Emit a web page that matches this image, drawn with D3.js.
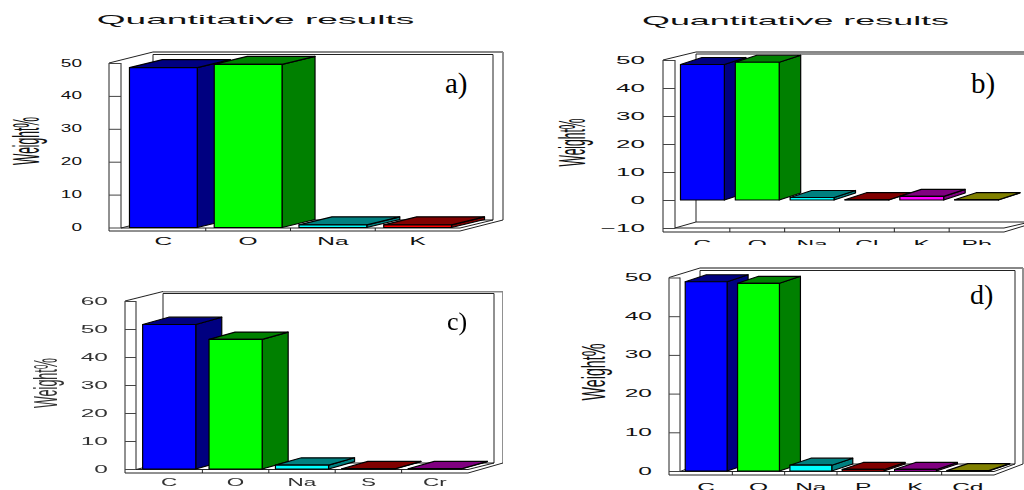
<!DOCTYPE html>
<html>
<head>
<meta charset="utf-8">
<script src="https://cdn.jsdelivr.net/npm/d3@7"></script>
<style>
  html, body { margin: 0; padding: 0; background: #fff; overflow: hidden; }
  svg { display: block; }
  text { font-family: "Liberation Sans", Arial, sans-serif; fill: #111; }
</style>
</head>
<body>
<svg id="chart" width="1024" height="490"></svg>
<script>
// values
const catsA = ["C", "O", "Na", "K"];
const valsA = [48.6, 49.6, 0.8, 0.8];
const ticksA = [0, 10, 20, 30, 40, 50];

const catsB = ["C", "O", "Na", "Cl", "K", "Pb"];
const valsB = [48.4, 49.2, 0.9, 0.1, 1.3, 0.1];
const ticksB = [-10, 0, 10, 20, 30, 40, 50];

const catsC = ["C", "O", "Na", "S", "Cr"];
const valsC = [51.6, 46.3, 1.4, 0.1, 0.1];
const ticksC = [0, 10, 20, 30, 40, 50, 60];

const catsD = ["C", "O", "Na", "P", "K", "Cd"];
const valsD = [48.9, 48.5, 1.5, 0.4, 0.4, 0.1];
const ticksD = [0, 10, 20, 30, 40, 50];

const frontColors = ["#0000ff", "#00ff00", "#00ffff", "#ff0000", "#ff00ff", "#ffff00"];
const backColors = ["#000080", "#008000", "#008080", "#800000", "#800080", "#808000"];

const svg = d3.select("#chart");

// panel c of the original is a softer scan
svg.append("filter").attr("id", "soft")
  .attr("x", 0).attr("y", 0).attr("width", "100%").attr("height", "100%")
  .append("feGaussianBlur").attr("stdDeviation", 0.4);

/********* layout of each panel *********/
const panels = [
  { id: "a", cats: catsA, vals: valsA, ticks: ticksA, yMax: 50,
    x0: 109, ix: 121, fr: 460, yTop: 63, yZero: 227.5, yBottom: 231, yFloor: 228,
    bx: 153, rx: 503, irx: 493, tY: 52, itY: 54.5, wallY: 220, dx: 33, dy: 8,
    tickOff: 27, tickScale: 1.9, catScale: 2.45, catOff: 14,
    title: [255.5, 24, 2.97], label: ["a)", 445, 93, 29], weight: [39, 141, 48, 36],
    clipY: 490, ink: "#111" },
  { id: "b", cats: catsB, vals: valsB, ticks: ticksB, yMax: 50,
    x0: 663, ix: 675, fr: 1004, yTop: 60, yZero: 200, yBottom: 232, yFloor: 228,
    bx: 696, rx: 1037, irx: 1030, tY: 52, itY: 54, wallY: 222, dx: 21.5, dy: 7,
    tickOff: 18, tickScale: 2.6, catScale: 2.45, catOff: 16,
    title: [795.5, 25, 2.87], label: ["b)", 971, 93, 29], weight: [585, 142.5, 48, 36],
    clipY: 245, ink: "#111" },
  { id: "c", cats: catsC, vals: valsC, ticks: ticksC, yMax: 60,
    x0: 125, ix: 136, fr: 468, yTop: 301, yZero: 469, yBottom: 473, yFloor: 469.5,
    bx: 163, rx: 503, irx: 494, tY: 291.5, itY: 293.5, wallY: 463, dx: 26, dy: 7.3,
    tickOff: 17, tickScale: 2.45, catScale: 2.25, catOff: 13,
    label: ["c)", 447, 330, 26], weight: [57, 383, 50, 34],
    clipY: 490, ink: "#333", soft: true },
  { id: "d", cats: catsD, vals: valsD, ticks: ticksD, yMax: 50,
    x0: 669, ix: 680, fr: 994, yTop: 277.5, yZero: 471, yBottom: 475, yFloor: 471.5,
    bx: 700, rx: 1023, irx: 1015, tY: 268, itY: 270.5, wallY: 464, dx: 21, dy: 7,
    tickOff: 17, tickScale: 2.45, catScale: 2.45, catOff: 16,
    label: ["d)", 970, 304, 28], weight: [605, 372, 57, 34],
    clipY: 490, ink: "#111" }
];

/********* draw one panel *********/
function drawPanel(p) {
  const clipId = "clip" + p.id;
  svg.append("clipPath").attr("id", clipId)
    .append("rect").attr("x", 0).attr("y", 0).attr("width", 1024).attr("height", p.clipY);

  const g = svg.append("g").attr("clip-path", `url(#${clipId})`)
    .append("g").attr("filter", p.soft ? "url(#soft)" : null);

  const x = d3.scaleBand().domain(p.cats).range([p.ix, p.fr]);
  const y = d3.scaleLinear().domain([0, p.yMax]).range([p.yZero, p.yTop]);

  // frame of the 3d box
  const frame = g.append("g").attr("fill", "none").attr("stroke", "#222").attr("stroke-width", 1);
  frame.append("path").attr("d",
    `M${p.x0},${p.yBottom}L${p.x0},${p.yTop}L${p.bx},${p.tY}L${p.rx},${p.tY}L${p.rx},${p.wallY}L${p.fr},${p.yBottom}Z`);
  frame.append("path").attr("d",
    `M${p.ix},${p.yTop}L${p.ix},${p.yFloor}L${p.fr},${p.yFloor}L${p.irx},${p.wallY}L${p.irx},${p.itY}L${p.bx},${p.itY}L${p.bx},${p.wallY}L${p.irx},${p.wallY}`);
  frame.append("path").attr("d", `M${p.ix},${p.yFloor}L${p.bx},${p.wallY}`);
  frame.append("path").attr("d", `M${p.bx},${p.tY}L${p.rx},${p.tY}`).attr("stroke", "#888").attr("stroke-width", 2);

  // y axis, ticks run across the wall
  const yAxis = g.append("g").attr("transform", `translate(${p.x0},0)`)
    .call(d3.axisLeft(y).tickValues(p.ticks).tickFormat(d => d < 0 ? "\u2212" + (-d) : d));
  yAxis.select(".domain").remove();
  yAxis.selectAll("line").attr("x1", 0).attr("x2", p.ix - p.x0).attr("stroke", "#444");
  yAxis.selectAll("text")
    .attr("x", 0).attr("dy", "0.3em")
    .attr("font-size", 10)
    .style("fill", p.ink)
    .attr("transform", `translate(${-p.tickOff},0) scale(${p.tickScale},1)`);

  // x axis
  const xAxis = g.append("g").attr("transform", `translate(0,${p.yBottom})`)
    .call(d3.axisBottom(x).tickSize(0));
  xAxis.select(".domain").remove();
  xAxis.selectAll(".tick line").remove();
  xAxis.selectAll("text")
    .attr("y", 0).attr("dy", 0)
    .attr("font-size", 10)
    .style("fill", p.ink)
    .attr("transform", `translate(0,${p.catOff}) scale(${p.catScale},1)`);

  g.append("g").selectAll("line")
    .data(p.cats.slice(1))
    .join("line")
    .attr("x1", d => x(d)).attr("x2", d => x(d))
    .attr("y1", p.yFloor).attr("y2", p.yBottom)
    .attr("stroke", "#222");

  // bars: side and top first, then the front face
  const bars = g.append("g").attr("stroke", "#000").attr("stroke-width", 1.2).attr("stroke-linejoin", "round")
    .selectAll("g")
    .data(p.vals.map((v, i) => ({ v, i, cat: p.cats[i] })))
    .join("g");
  const barW = x.bandwidth() * 0.8;
  const left = d => x(d.cat) + x.bandwidth() * 0.1;

  bars.append("path").attr("fill", d => backColors[d.i])
    .attr("d", d => {
      const a = left(d) + barW, t = y(d.v), b = y(0);
      return `M${a},${t}L${a + p.dx},${t - p.dy}L${a + p.dx},${b - p.dy}L${a},${b}Z`;
    });
  bars.append("path").attr("fill", d => backColors[d.i])
    .attr("d", d => {
      const a = left(d), t = y(d.v);
      return `M${a},${t}L${a + p.dx},${t - p.dy}L${a + barW + p.dx},${t - p.dy}L${a + barW},${t}Z`;
    });
  bars.append("rect").attr("fill", d => frontColors[d.i])
    .attr("x", left).attr("width", barW)
    .attr("y", d => y(d.v)).attr("height", d => y(0) - y(d.v));

  // titles and labels
  if (p.title) {
    g.append("text")
      .attr("transform", `translate(${p.title[0]},${p.title[1]}) scale(${p.title[2]},1)`)
      .attr("text-anchor", "middle").attr("font-size", 12.5)
      .text("Quantitative results");
  }
  g.append("text")
    .attr("x", p.label[1]).attr("y", p.label[2])
    .style("font-family", '"Liberation Serif", "Times New Roman", serif')
    .style("fill", "#000")
    .attr("font-size", p.label[3])
    .text(p.label[0]);

  // Weight% is squeezed along its length
  g.append("text")
    .attr("transform", `translate(${p.weight[0]},${p.weight[1]}) rotate(-90)`)
    .attr("text-anchor", "middle").attr("font-size", p.weight[3])
    .attr("textLength", p.weight[2]).attr("lengthAdjust", "spacingAndGlyphs")
    .style("fill", p.ink)
    .text("Weight%");
}

panels.forEach(drawPanel);
</script>
</body>
</html>
